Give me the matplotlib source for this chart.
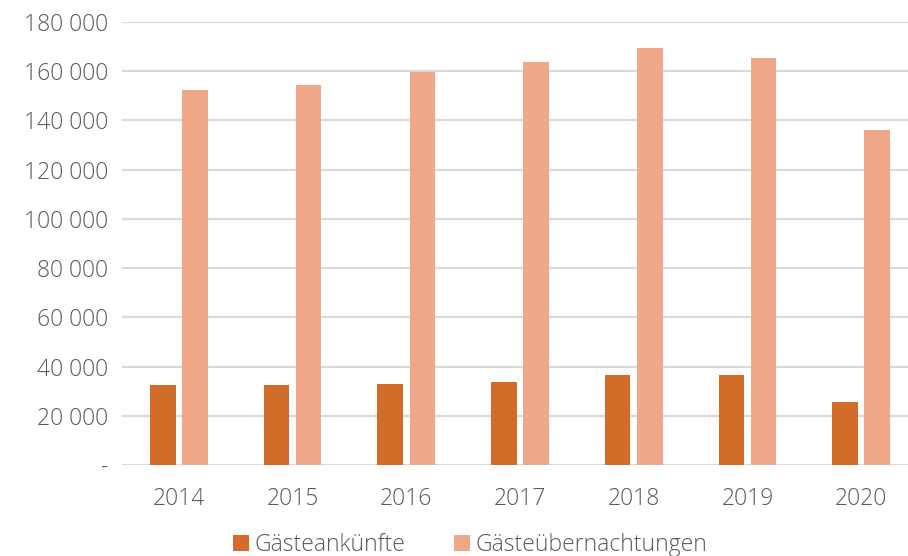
import matplotlib
matplotlib.use("Agg")
import matplotlib.pyplot as plt
import numpy as np
from matplotlib.ticker import FuncFormatter

years = ["2014", "2015", "2016", "2017", "2018", "2019", "2020"]
ankuenfte = [32700, 32700, 32800, 33800, 36400, 36400, 25400]
uebernachtungen = [152300, 154500, 159800, 163800, 169500, 165400, 136000]
yticks = [0, 20000, 40000, 60000, 80000, 100000, 120000, 140000, 160000, 180000]

plt.rcParams['font.family'] = ['Open Sans', 'DejaVu Sans']
plt.rcParams['font.weight'] = 'light'

fig = plt.figure(figsize=(9.08, 5.56), dpi=100)
ax = fig.add_axes([122/908, 91/556, 796/908, 443/556])

x = np.arange(len(years))
w = 0.225
off = 0.141
c1 = "#D26D29"
c2 = "#F1A88A"
ax.bar(x - off, ankuenfte, width=w, color=c1, label="Gästeankünfte", zorder=3)
ax.bar(x + off, uebernachtungen, width=w, color=c2, label="Gästeübernachtungen", zorder=3)

ax.set_xlim(-0.5, 6.5)
ax.set_ylim(0, 180000)
ax.set_yticks(yticks)
ax.yaxis.set_major_formatter(FuncFormatter(lambda v, p: "-" if v == 0 else f"{int(v):,}".replace(",", " ")))
ax.set_xticks(x)
ax.set_xticklabels(years)
ax.grid(axis='y', color="#d9d9d9", linewidth=1.5, zorder=0)
for s in ax.spines.values():
    s.set_visible(False)
ax.tick_params(axis='both', length=0, labelsize=16.5, colors="#595959")
ax.tick_params(axis='y', pad=10)
ax.tick_params(axis='x', pad=16)

leg = fig.legend(loc='center', bbox_to_anchor=(470/908, 1 - 545/556), ncol=2, frameon=False,
                 fontsize=16.5, handlelength=0.7, handleheight=0.7, handletextpad=0.25,
                 columnspacing=2.1, labelcolor="#595959")

fig.savefig("out.png", dpi=100)
